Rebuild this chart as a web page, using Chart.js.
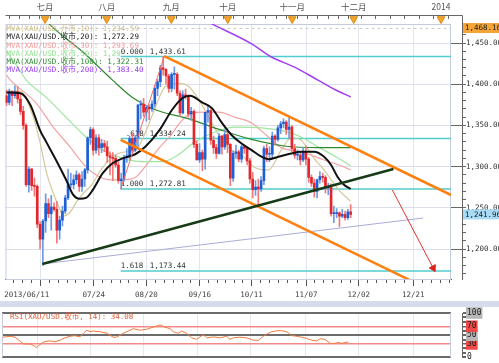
<!DOCTYPE html>
<html>
<head>
<meta charset="utf-8">
<script src="https://cdn.jsdelivr.net/npm/chart.js@4.4.1/dist/chart.umd.min.js"></script>
<style>
  html, body { margin: 0; padding: 0; background: #fff; }
  #wrap { width: 499px; height: 363px; overflow: hidden; }
  canvas { display: block; }
  .band { height: 6px; background: #d6dcea; }
</style>
</head>
<body>
<div id="wrap">
  <canvas id="price" width="499" height="301"></canvas>
  <div class="band"></div>
  <canvas id="rsi" width="499" height="56"></canvas>
</div>
<script>
// daily XAU/USD bars, 2013-06-11 .. 2013-11-29 (index = bar number)
const opens  = [1386,1378,1391,1386,1391,1382,1367,1350,1278,1297,1277,1276,1230,1212,1234,1255,1243,1251,1248,1223,1235,1246,1262,1278,1278,1284,1290,1276,1285,1296,1335,1345,1320,1335,1323,1328,1324,1313,1311,1310,1302,1283,1285,1311,1313,1334,1320,1335,1375,1376,1366,1372,1370,1376,1395,1403,1420,1418,1410,1395,1412,1412,1389,1365,1387,1385,1364,1367,1327,1308,1317,1309,1366,1368,1332,1323,1316,1337,1324,1339,1327,1286,1316,1318,1309,1324,1322,1307,1285,1272,1275,1273,1283,1322,1315,1315,1337,1333,1347,1352,1354,1345,1348,1322,1314,1314,1308,1318,1309,1287,1280,1270,1284,1288,1287,1274,1276,1243,1243,1244,1240,1242,1238,1245];
const highs  = [1393,1394,1392,1398,1397,1389,1373,1352,1300,1298,1286,1278,1233,1236,1267,1261,1265,1256,1258,1240,1252,1265,1297,1292,1290,1295,1292,1294,1298,1336,1348,1347,1339,1339,1333,1332,1331,1318,1317,1314,1306,1292,1314,1322,1337,1340,1338,1375,1380,1383,1374,1375,1380,1399,1406,1423,1433.6,1419,1412,1414,1421,1414,1392,1392,1394,1387,1372,1369,1331,1328,1320,1366,1375,1370,1337,1327,1340,1338,1345,1343,1328,1319,1326,1320,1326,1326,1324,1310,1293,1283,1285,1288,1325,1327,1324,1342,1339,1350,1355,1358,1356,1361,1350,1327,1320,1317,1323,1325,1311,1290,1285,1285,1294,1292,1289,1280,1279,1252,1249,1245,1248,1246,1248,1254];
const lows   = [1374,1375,1374,1383,1377,1363,1345,1276,1269,1271,1264,1226,1200,1180,1220,1238,1223,1246,1207,1212,1228,1243,1260,1274,1273,1279,1270,1270,1276,1292,1327,1314,1316,1314,1317,1318,1305,1290,1283,1299,1280,1273,1282,1305,1309,1316,1318,1323,1358,1361,1355,1357,1367,1372,1386,1397,1411,1400,1390,1391,1394,1386,1361,1364,1382,1360,1356,1323,1308,1305,1295,1297,1354,1327,1316,1310,1315,1315,1321,1317,1277,1282,1310,1306,1305,1316,1302,1280,1262,1265,1251,1270,1278,1306,1306,1310,1326,1331,1340,1347,1339,1334,1318,1310,1308,1302,1306,1302,1281,1276,1263,1262,1280,1281,1268,1266,1240,1232,1238,1227,1238,1235,1236,1238];
const closes = [1378,1391,1386,1391,1382,1367,1350,1278,1297,1277,1276,1230,1212,1234,1255,1243,1251,1248,1223,1235,1246,1262,1278,1278,1284,1290,1276,1285,1296,1335,1345,1320,1335,1323,1328,1324,1313,1311,1310,1302,1283,1285,1311,1313,1334,1320,1335,1375,1376,1366,1372,1370,1376,1395,1403,1420,1418,1410,1395,1412,1412,1389,1365,1387,1385,1364,1367,1327,1308,1317,1309,1366,1368,1332,1323,1316,1337,1324,1339,1327,1286,1316,1318,1309,1324,1322,1307,1285,1272,1275,1273,1283,1322,1315,1315,1337,1333,1347,1352,1354,1345,1348,1322,1314,1314,1308,1318,1309,1287,1280,1270,1284,1288,1287,1274,1276,1243,1243,1244,1240,1242,1238,1245,1241.96];

// moving averages (bar index, price)
const ma10X = [0,5,9.6,12,14.2,16.7,19.2,20.2,22.6,24.8,28.4,29.8,34.4,37.9,42.6,46.1,49.6,53.2,56.7,61.7,65.2,68.8,72.3,77,80.5,84,88.7,93.6,98.2,101.8,105.3,109.9,113.5,116,119.5,123];
const ma10V = [1392,1391,1360,1329,1294,1268,1247,1240,1244,1256,1271,1275,1299,1312,1318,1320,1341,1372,1397,1401,1397,1381,1360,1332,1320,1314,1299,1296,1320,1335,1332,1310,1296,1284,1269,1258];
const ma20X = [0,5,8.5,12,14.2,17.7,21.3,23.8,26.2,28.4,30.9,34.4,37.9,41.5,46,49.6,54.6,59.2,62.8,65.6,69.9,73.4,77,80.5,84,87.6,91.1,93.6,97.2,101.8,105.3,109.9,113.5,116,118.4,120.6,123];
const ma20V = [1390,1389,1375,1344,1330,1308,1284,1266,1261,1262,1272,1292,1304,1310,1315,1324,1344,1369,1383,1386,1378,1371,1353,1338,1328,1320,1312,1309,1312,1316,1318,1318,1312,1302,1287,1278,1273];
const ma30X = [0,1.4,10.6,16.7,22.7,27.3,31.9,36.9,41.5,46.1,49.6,53.9,58.2,63.8,69.9,75.9,81.6,87.6,92.9,98.2,105.3,113.5,119.5,123];
const ma30V = [1411,1405,1377,1348,1324,1304,1290,1284,1284,1287,1300,1320,1336,1360,1366,1366,1360,1353,1338,1323,1318,1308,1301,1296];
const ma50X = [0,3.5,7.1,14.2,28.4,34.4,41.5,48.6,55.7,60.3,67.4,74.5,81.6,91.1,99.3,105.3,111.3,117.7,123];
const ma50V = [1440,1423,1405,1384,1336,1320,1310,1306,1306,1312,1330,1342,1348,1347,1343,1336,1324,1312,1301];
const ma100X = [13,15.6,27.3,37.9,45,53.2,65.2,77,87.6,99.3,111.3,123];
const ma100V = [1482,1472,1439,1405,1384,1369,1358,1344,1333,1325,1323,1323];
const ma200X = [70,74.1,87.6,94.7,102.8,111.3,117.7,123];
const ma200V = [1479,1472,1449,1433,1421,1405,1393,1384.5];
const maLegend = [
  'MVA(XAU/USD.开市,10): 1,234.59',
  'MVA(XAU/USD.收市,20): 1,272.29',
  'MVA(XAU/USD.收市,30): 1,293.69',
  'MVA(XAU/USD.收市,50): 1,29',
  'MVA(XAU/USD.收市,100): 1,322.31',
  'MVA(XAU/USD.收市,200): 1,383.40'
];

// drawn studies
const fibRatios = ['0.000', '.618', '1.000', '1.618'];
const fibPrices = [1433.61, 1334.24, 1272.81, 1173.44];
const fibStart = 40.8;
const swingX = [40.8, 56.4], swingY = [1272.81, 1433.61];
const chanTopX = [56.4, 158.9], chanTopY = [1434.2, 1265.5];
const chanLowX = [40.8, 144.3], chanLowY = [1332.3, 1162];
const supportX = [12.8, 138.3], supportY = [1181.8, 1297];
const thinX = [12.8, 148.9], thinY = [1181.8, 1237.6];
const arrowX = [137.9, 152.5], arrowY = [1271.6, 1176.9];

// RSI(14)
const rsiX = [0,2.5,4.3,6,7.2,9.6,10.8,11.9,13.1,14.9,16.7,18.4,20.2,22,23.8,25.5,27.3,28.5,29.7,30.9,32,34.4,36.8,39.1,40.3,42.1,44.4,46.2,48.6,50.9,53.3,55.7,57.4,59.2,60.4,62.2,63.4,65.1,66.9,68.7,69.9,71.1,72.2,74.6,77,79.3,80.5,81.7,84,86.4,88.8,90.6,92.3,93.5,95.3,97.1,98.8,100.6,102.4,104.2,105.9,107.7,109.5,111.3,112.4,114.2,116,117.7,118.9,120.1,121.3,122.5];
const rsiV = [45.2,47.3,45.2,36.8,29.9,29.9,26.4,21.6,28.5,35.5,36.8,34.8,38.3,43.8,47.3,48.7,45.9,54.2,61.1,57.7,59.1,57.7,54.2,45.2,45.2,52.1,59.1,64.6,61.1,63.2,68.1,73,68.1,64.6,57.7,54.2,59.1,54.2,43.8,40.3,45.9,50.7,43.8,45.9,43.8,47.3,40.3,43.8,45.2,43.8,38.3,38.3,47.3,52.1,57.7,59.8,59.8,57.7,48.7,47.3,45.2,42.4,38.3,36.8,41.7,40.3,31.3,31.3,33.4,31.3,33.4,34.1];

// axes
const monthPos = [13.8, 35.8, 58.9, 79.1, 102.1, 124.1, 155.3];
const monthLabels = ['七月', '八月', '九月', '十月', '十一月', '十二月', '2014'];
const dateTickPos = [12.1, 31.2, 50, 69.1, 87.6, 107.1, 125.9, 145.4];
const dateLabelPos = [7.25, 31.2, 50, 69.1, 87.6, 107.1, 125.9, 145.4];
const dateLabels = ['2013/06/11', '07/24', '08/20', '09/16', '10/11', '11/07', '12/02', '12/21'];
const VIEW_HIGH = 1468.16, LAST_PRICE = 1241.96;

const X_MIN = -0.35, X_MAX = 158.86;
const Y_MIN = 1163.6, Y_MAX = 1473.06;
const MONO = "'DejaVu Sans Mono', 'Noto Sans CJK SC', monospace";
const UP = '#1f5fd6', DOWN = '#e3262c';
const NONE = 'rgba(0,0,0,0)';

const fmt = v => v.toLocaleString('en-US', { minimumFractionDigits: 2, maximumFractionDigits: 2 });
const near = (v, arr) => arr.some(p => Math.abs(p - v) < 0.01);
const pts = (xs, ys) => xs.map((x, i) => ({ x, y: ys[i] }));

function rulerTicks(majors, parts) {
  const out = [];
  const s0 = (majors[1] - majors[0]) / parts;
  for (let v = majors[0] - s0; v > X_MIN; v -= s0) out.push(v);
  majors.forEach((m, i) => {
    out.push(m);
    if (i < majors.length - 1) {
      const s = (majors[i + 1] - m) / parts;
      for (let k = 1; k < parts; k++) out.push(m + k * s);
    } else {
      const s = (m - majors[i - 1]) / parts;
      for (let v = m + s; v < X_MAX; v += s) out.push(v);
    }
  });
  return out.sort((a, b) => a - b);
}
const topTicks = rulerTicks(monthPos, 6);
const bottomTicks = rulerTicks(dateTickPos, 6).concat([dateLabelPos[0]]).sort((a, b) => a - b);

function maLine(xs, ys, color, width, order) {
  return { type: 'line', data: pts(xs, ys), borderColor: color, borderWidth: width,
    pointRadius: 0, cubicInterpolationMode: 'monotone', order };
}
function straight(xs, ys, color, width, order) {
  return { type: 'line', data: pts(xs, ys), borderColor: color, borderWidth: width,
    pointRadius: 0, tension: 0, order };
}

const idx = opens.map((_, i) => i);
const isUp = i => closes[i] >= opens[i];

const datasets = [
  ...fibPrices.map(p => straight([fibStart, X_MAX], [p, p], '#52cccc', 1.5, 30)),
  maLine(ma200X, ma200V, '#a040ee', 1.5, 20),
  maLine(ma100X, ma100V, '#2f8a2f', 1.2, 20),
  maLine(ma50X, ma50V, '#9fe69f', 1.2, 20),
  maLine(ma30X, ma30V, '#f4a3a3', 1.2, 20),
  maLine(ma10X, ma10V, '#d6c898', 1.2, 20),
  {
    type: 'bar', data: idx.map(i => ({ x: i, y: [lows[i], highs[i]] })), grouped: false,
    barThickness: 1, minBarLength: 1,
    backgroundColor: c => isUp(c.dataIndex) ? '#6f9be2' : '#f07a7a', order: 12
  },
  {
    type: 'bar', data: idx.map(i => ({ x: i, y: [opens[i], closes[i]] })), grouped: false,
    barThickness: 2, minBarLength: 1,
    backgroundColor: c => isUp(c.dataIndex) ? UP : DOWN, order: 11
  },
  maLine(ma20X, ma20V, '#111111', 2, 10),
  straight(swingX, swingY, '#f06a6a', 1, 8),
  straight(thinX, thinY, '#a9acd6', 1, 7),
  straight(chanTopX, chanTopY, '#ff7f0e', 2.5, 5),
  straight(chanLowX, chanLowY, '#ff7f0e', 2.5, 5),
  straight(supportX, supportY, '#173b17', 2.5, 4),
  straight(arrowX, arrowY, '#e43030', 1, 3),
  {
    type: 'scatter', data: [{ x: arrowX[1], y: arrowY[1] }], pointStyle: 'triangle',
    rotation: 152, radius: 4, hoverRadius: 4, backgroundColor: '#e02020', borderColor: '#e02020', order: 2
  },
  {
    type: 'scatter', data: monthPos.map(v => ({ x: v, y: 1479.1 })), pointStyle: 'triangle',
    rotation: 180, radius: 4.5, hoverRadius: 4.5, borderWidth: 1,
    backgroundColor: '#f6a52a', borderColor: '#d98a10', clip: false, order: 1
  }
];

const legendColors = ['#cbbd88', '#1a1a1a', '#f39a9a', '#8fe08f', '#2f8a2f', '#9b3cf0'];

const priceDecor = {
  id: 'priceDecor',
  beforeDatasetsDraw(chart) {
    const { ctx, chartArea: a, scales: { x, y } } = chart;
    ctx.save();
    ctx.strokeStyle = '#c5cbdd'; ctx.lineWidth = 1;
    ctx.strokeRect(a.left + 0.5, a.top + 0.5, a.width - 1, a.height);
    const yh = Math.round(y.getPixelForValue(VIEW_HIGH)) + 0.5;
    ctx.setLineDash([3, 3]); ctx.strokeStyle = '#cccccc';
    ctx.beginPath(); ctx.moveTo(a.left, yh); ctx.lineTo(a.right, yh); ctx.stroke();
    ctx.setLineDash([]);
    ctx.font = '7.5px ' + MONO; ctx.fillStyle = '#333'; ctx.textBaseline = 'bottom';
    const fx = x.getPixelForValue(fibStart);
    fibPrices.forEach((p, i) => {
      const py = y.getPixelForValue(p) - 1;
      ctx.fillText(fibRatios[i], fx + (fibRatios[i].length < 5 ? 5 : 0), py);
      ctx.fillText(fmt(p), fx + 29, py);
    });
    ctx.restore();
  },
  afterDatasetsDraw(chart) {
    const { ctx, chartArea: a } = chart;
    ctx.save();
    ctx.font = '7.5px ' + MONO; ctx.textBaseline = 'middle';
    maLegend.forEach((t, i) => {
      ctx.fillStyle = legendColors[i];
      ctx.fillText(t, a.left + 1, a.top + 5 + i * 8.3);
    });
    ctx.restore();
  },
  afterDraw(chart) {
    const { ctx, chartArea: a, scales } = chart;
    ctx.save();
    const by = scales.xt.bottom - 9 + 0.5;
    ctx.strokeStyle = '#666'; ctx.lineWidth = 1;
    ctx.beginPath(); ctx.moveTo(a.left, by); ctx.lineTo(scales.y.left + 0.5, by);
    ctx.lineTo(scales.y.left + 0.5, a.top); ctx.stroke();
    ctx.font = '7.5px ' + MONO; ctx.textBaseline = 'middle';
    [[VIEW_HIGH, '#f4a535'], [LAST_PRICE, '#a8dcf6']].forEach(([v, bg]) => {
      const py = scales.y.getPixelForValue(v);
      const x0 = scales.y.left + 1;
      ctx.fillStyle = bg; ctx.fillRect(x0, py - 5, chart.width - x0, 10);
      ctx.fillStyle = '#222'; ctx.fillText(fmt(v), x0 + 2, py + 0.5);
    });
    ctx.restore();
  }
};

new Chart(document.getElementById('price'), {
  type: 'bar',
  data: { datasets },
  options: {
    responsive: false, animation: false, events: [],
    layout: { padding: { left: 2, right: 0, top: 0, bottom: 0 } },
    plugins: { legend: { display: false }, tooltip: { enabled: false } },
    scales: {
      x: {
        type: 'linear', position: 'bottom', min: X_MIN, max: X_MAX, offset: false,
        afterBuildTicks: s => { s.ticks = bottomTicks.map(v => ({ value: v })); },
        afterFit: s => { s.height = 22; },
        border: { display: true, color: '#555' },
        grid: {
          offset: false,
          color: c => c.tick && near(c.tick.value, dateTickPos) ? '#e3e5ee' : NONE,
          tickLength: 7,
          tickColor: c => c.tick && near(c.tick.value, dateTickPos) ? '#555'
            : (c.tick && near(c.tick.value, dateLabelPos) ? NONE : '#555'),
          tickBorderDash: c => c.tick && near(c.tick.value, dateTickPos) ? [] : [3, 20]
        },
        ticks: {
          autoSkip: false, maxRotation: 0, padding: 5, color: '#444',
          font: { family: MONO, size: 7.5 },
          callback: v => { const k = dateLabelPos.findIndex(p => Math.abs(p - v) < 0.01); return k >= 0 ? dateLabels[k] : ''; }
        }
      },
      xt: {
        type: 'linear', position: 'top', min: X_MIN, max: X_MAX, offset: false,
        afterBuildTicks: s => { s.ticks = topTicks.map(v => ({ value: v })); },
        afterFit: s => { s.height = 24; },
        border: { display: false },
        grid: { drawOnChartArea: false, tickLength: 9, tickColor: '#666', tickBorderDash: [4, 20] },
        ticks: {
          autoSkip: false, maxRotation: 0, padding: 3, color: '#555',
          font: { family: "'Noto Sans CJK SC', 'DejaVu Sans', sans-serif", size: 8.5 },
          callback: v => { const k = monthPos.findIndex(p => Math.abs(p - v) < 0.01); return k >= 0 ? monthLabels[k] : ''; }
        }
      },
      yr: {
        type: 'linear', position: 'right', weight: 0, min: Y_MIN, max: Y_MAX,
        afterBuildTicks: s => { const t = []; for (let v = 1200; v <= 1450; v += 50) t.push({ value: v }); s.ticks = t; },
        afterFit: s => { s.width = 11; },
        border: { display: false },
        grid: { drawOnChartArea: false, tickLength: 11, tickColor: '#666' },
        ticks: { display: false }
      },
      y: {
        type: 'linear', position: 'right', weight: 1, min: Y_MIN, max: Y_MAX,
        afterBuildTicks: s => { const t = []; for (let v = 1170; v <= 1470; v += 10) t.push({ value: v }); s.ticks = t; },
        afterFit: s => { s.width = 37; },
        border: { display: true, color: '#666' },
        grid: {
          color: c => c.tick && c.tick.value % 50 === 0 ? '#dcdfe9' : NONE,
          tickLength: 4, tickColor: '#666'
        },
        ticks: {
          autoSkip: false, padding: 0, color: '#333',
          font: { family: MONO, size: 7.5 },
          callback: v => v % 50 === 0 ? fmt(v) : ''
        }
      }
    }
  },
  plugins: [priceDecor]
});

const rsiDecor = {
  id: 'rsiDecor',
  beforeDatasetsDraw(chart) {
    const { ctx, chartArea: a } = chart;
    ctx.save();
    ctx.strokeStyle = '#c5cbdd'; ctx.lineWidth = 1;
    ctx.beginPath();
    ctx.moveTo(a.left + 0.5, a.top); ctx.lineTo(a.left + 0.5, a.bottom);
    ctx.moveTo(a.right - 0.5, a.top); ctx.lineTo(a.right - 0.5, a.bottom);
    ctx.stroke();
    ctx.restore();
  },
  afterDraw(chart) {
    const { ctx, chartArea: a } = chart;
    ctx.save();
    ctx.font = '7.5px ' + MONO; ctx.textBaseline = 'middle'; ctx.fillStyle = '#e0603c';
    ctx.fillText('RSI(XAU/USD.收市, 14): 34.08', a.left + 8, a.top + 4);
    ctx.restore();
  }
};

const rsiLevels = [0, 30, 50, 70, 100];
new Chart(document.getElementById('rsi'), {
  type: 'line',
  data: {
    datasets: [{
      data: pts(rsiX, rsiV), borderColor: '#f07b3f', borderWidth: 1,
      pointRadius: 0, tension: 0
    }]
  },
  options: {
    responsive: false, animation: false, events: [],
    layout: { padding: { left: 2, right: 0, top: 6, bottom: 2 } },
    plugins: { legend: { display: false }, tooltip: { enabled: false } },
    scales: {
      x: {
        type: 'linear', min: X_MIN, max: X_MAX, offset: false,
        afterBuildTicks: s => { s.ticks = dateTickPos.map(v => ({ value: v })); },
        afterFit: s => { s.height = 0; },
        border: { display: false },
        grid: { color: '#e6e8f0', drawTicks: false },
        ticks: { display: false }
      },
      yr: {
        type: 'linear', position: 'right', weight: 0, min: 0, max: 100,
        afterFit: s => { s.width = 11; },
        border: { display: false }, grid: { display: false }, ticks: { display: false }
      },
      y: {
        type: 'linear', position: 'right', weight: 1, min: 0, max: 100,
        afterBuildTicks: s => { const t = []; for (let v = 0; v <= 100; v += 10) t.push({ value: v }); s.ticks = t; },
        afterFit: s => { s.width = 37; },
        border: { display: true, color: '#666' },
        grid: {
          color: c => {
            const v = c.tick && c.tick.value;
            if (v === 0 || v === 50 || v === 100) return '#6c6c6c';
            if (v === 30 || v === 70) return '#f38a8a';
            return NONE;
          },
          lineWidth: c => { const v = c.tick && c.tick.value; return (v === 30 || v === 70) ? 1.5 : 2; },
          tickLength: 4, tickColor: '#666'
        },
        ticks: {
          autoSkip: false, padding: 1, color: '#222',
          font: { family: MONO, size: 8 },
          callback: v => rsiLevels.includes(v) ? String(v) : '',
          showLabelBackdrop: c => c.tick && rsiLevels.includes(c.tick.value) && c.tick.value !== 0,
          backdropColor: c => c.tick && (c.tick.value === 30 || c.tick.value === 70) ? '#f04848' : '#b8b8b8',
          backdropPadding: 1
        }
      }
    }
  },
  plugins: [rsiDecor]
});
</script>
</body>
</html>
